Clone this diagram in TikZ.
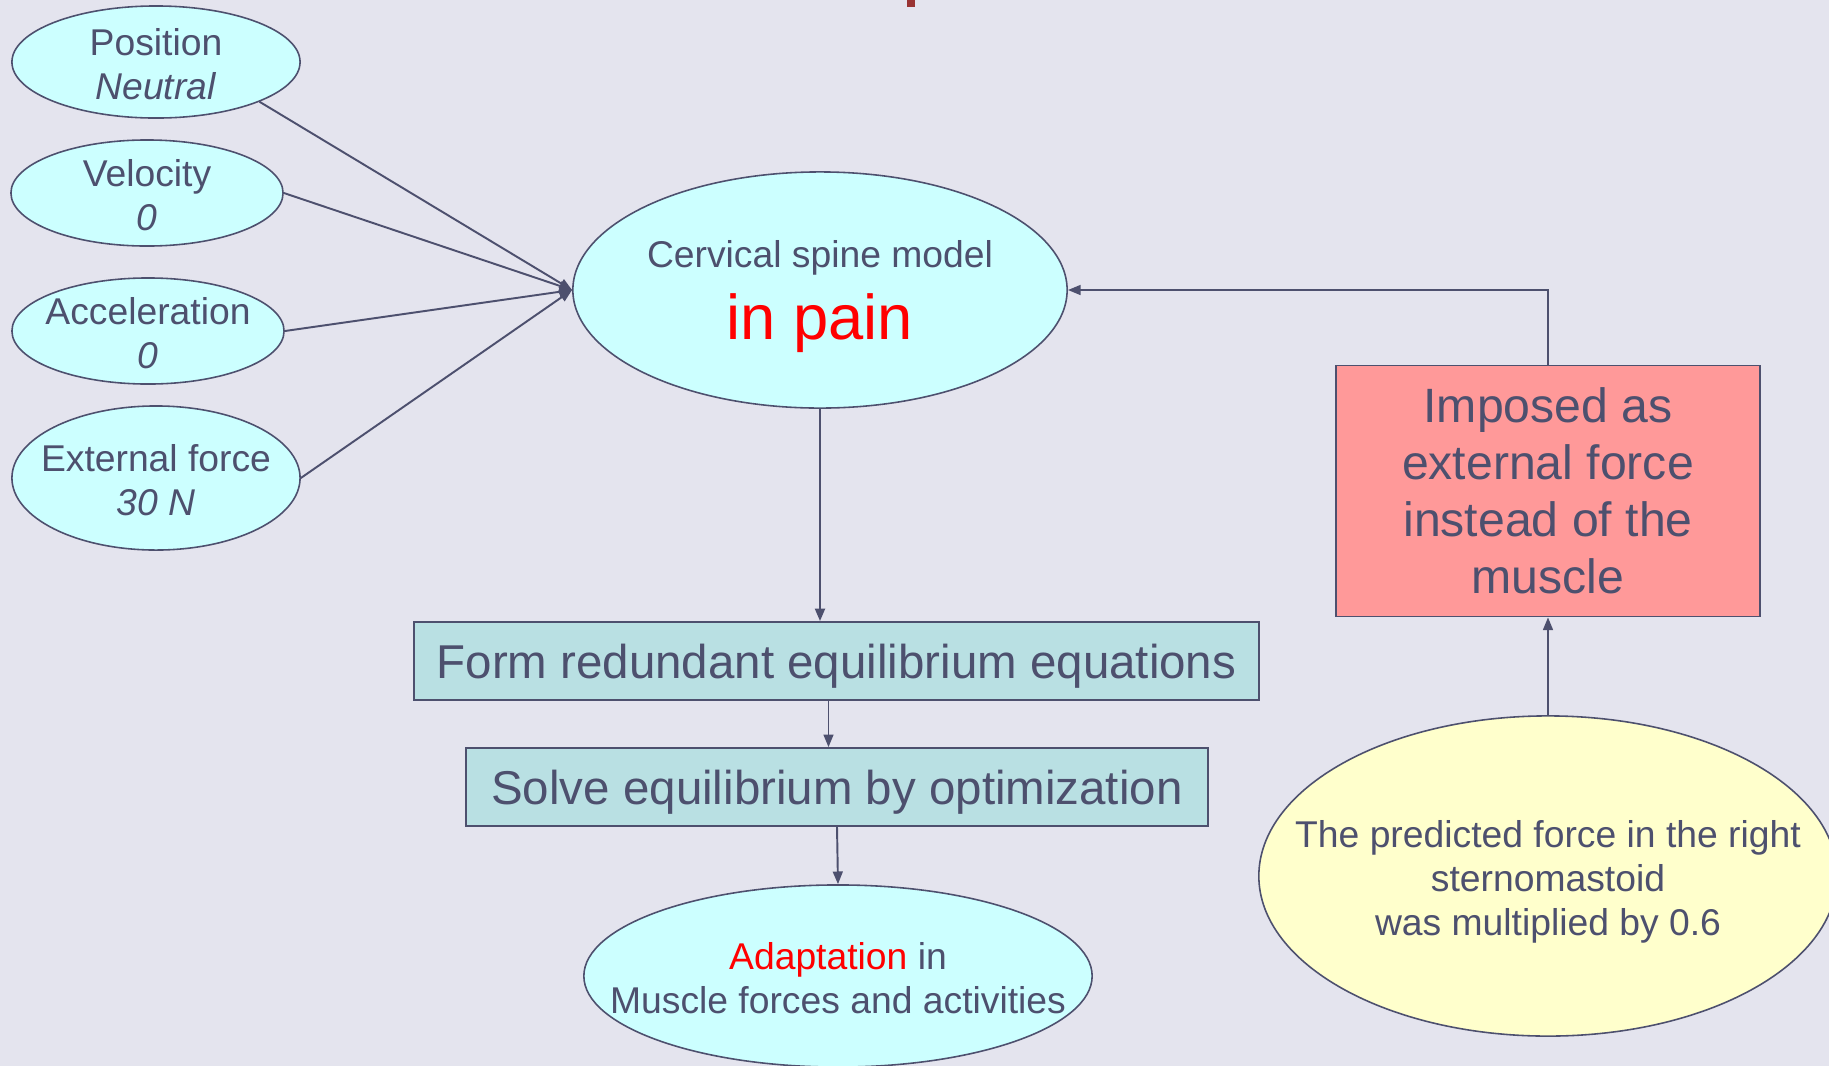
\documentclass[tikz,border=0pt]{standalone}
\usepackage{fontspec}
\setmainfont{Liberation Sans}
\usepackage{xcolor}
\usepackage{tikz}
\usetikzlibrary{shapes.geometric,arrows.meta,positioning,calc}
\definecolor{BgLavender}{HTML}{E4E4EE}
\definecolor{InkSlate}{HTML}{4D506E}
\definecolor{SoftCyan}{HTML}{CCFFFF}
\definecolor{SoftTeal}{HTML}{B9E0E3}
\definecolor{SoftRose}{HTML}{FF9999}
\definecolor{SoftCream}{HTML}{FFFFCC}
\definecolor{TitleRed}{HTML}{993333}
\tikzset{
  % Base ellipse (text goes in a centred label)
  EL/.style={ellipse,draw=InkSlate,line width=0.45pt,inner sep=0pt},
  % Base box
  BX/.style={rectangle,draw=InkSlate,line width=0.45pt,inner sep=0pt,
             align=center,text=InkSlate},
  % Arrow
  arr/.style={-{Triangle[length=3.6pt,width=2.8pt]},draw=InkSlate,line width=0.55pt},
  % Colour variants
  eC/.style={EL,fill=SoftCyan},
  eY/.style={EL,fill=SoftCream},
  bT/.style={BX,fill=SoftTeal,text depth=0pt,font=\fontsize{13.5pt}{16pt}\selectfont},
  bR/.style={BX,fill=SoftRose,font=\fontsize{13.7pt}{16.2pt}\selectfont},
  % Text styles
  TS/.style={align=center,text=InkSlate,inner sep=0pt,yshift=-0.02cm,
             font=\fontsize{10.6pt}{12.6pt}\selectfont}
}

\begin{document}
\begin{tikzpicture}[x=0.01cm,y=-0.01cm]
  \fill[BgLavender] (0,0) rectangle (1829,1066);
  \useasboundingbox (0,0) rectangle (1829,1066);
  \fill[TitleRed] (907,0) rectangle (915,7);

  % Model inputs
  \node[eC,minimum width=2.88cm,minimum height=1.12cm,
        label={[TS]center:{Position\\\textit{Neutral}}}] (pos) at (156,62) {};
  \node[eC,minimum width=2.72cm,minimum height=1.06cm,
        label={[TS]center:{Velocity\\\textit{0}}}] (vel) at (147,193) {};
  \node[eC,minimum width=2.72cm,minimum height=1.06cm,
        label={[TS]center:{Acceleration\\\textit{0}}}] (acc) at (148,331) {};
  \node[eC,minimum width=2.88cm,minimum height=1.44cm,
        label={[TS]center:{External force\\\textit{30 N}}}] (ext) at (156,478) {};

  % Main chain
  \node[eC,minimum width=4.94cm,minimum height=2.36cm,
        label={[TS,yshift=-0.05cm,font=\fontsize{10.6pt}{20.5pt}\selectfont]center:{Cervical spine model\\{\fontsize{18pt}{20pt}\selectfont\color{red}in pain}}}] (cerv) at (820,290) {};
  \node[bT,minimum width=8.45cm,minimum height=0.78cm] (form) at (836.5,661) {Form redundant equilibrium equations};
  \node[bT,minimum width=7.42cm,minimum height=0.78cm] (solve) at (837,787) {Solve equilibrium by optimization};
  \node[eC,minimum width=5.08cm,minimum height=1.82cm,
        label={[TS]center:{\textcolor{red}{Adaptation} in\\Muscle forces and activities}}] (adapt) at (838,976) {};

  % Feedback branch
  \node[bR,minimum width=4.24cm,minimum height=2.51cm] (imp) at (1548,491) {Imposed as\\external force\\instead of the\\muscle};
  \node[eY,minimum width=5.78cm,minimum height=3.2cm,
        label={[TS,yshift=-0.04cm]center:{The predicted force in the right\\sternomastoid\\was multiplied by 0.6}}] (pred) at (1548,876) {};

  \draw[arr](pos.-21)--(cerv.west);
  \draw[arr](vel.east)--(cerv.west);
  \draw[arr](acc.east)--(cerv.west);
  \draw[arr](ext.east)--(cerv.west);
  \draw[arr,line width=0.75pt](cerv.south)--(cerv.south |- form.north);
  \draw[arr]([xshift=-0.08cm]form.south)--([xshift=-0.08cm]form.south |- solve.north);
  \draw[arr](solve.south)--(adapt.north);
  \draw[arr](pred.north)--(imp.south);
  \draw[arr](imp.north) |- (cerv.east);
\end{tikzpicture}
\end{document}
